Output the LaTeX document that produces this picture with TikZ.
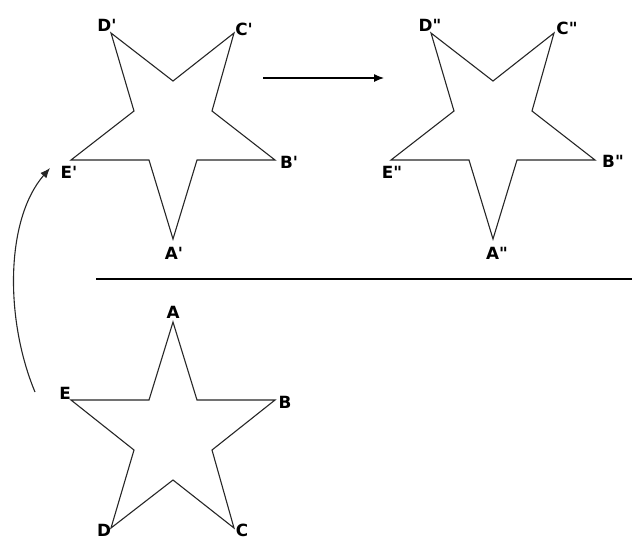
\documentclass[tikz,border=0pt]{standalone}
\usepackage{fontspec}
\newfontfamily\lblfont{DejaVu Sans}
\usetikzlibrary{arrows.meta}
\begin{document}
\begin{tikzpicture}[x=0.5pt, y=-0.5pt,
  lbl/.style={font=\lblfont\bfseries\fontsize{8.4}{10}\selectfont, inner sep=0pt},
  starline/.style={draw=black!85, line width=0.55pt, line join=miter},
  tip/.style={-{Latex[length=5pt,width=4pt]}, line width=0.55pt}]
\useasboundingbox (0,0) rectangle (632,538);
% original star (below the mirror line)
\coordinate (A) at (173,322);
\coordinate (ab) at (197,400);
\coordinate (B) at (275,400);
\coordinate (bc) at (212,450);
\coordinate (C) at (234,528);
\coordinate (cd) at (173,480);
\coordinate (D) at (111,528);
\coordinate (de) at (134,450);
\coordinate (E) at (71,400);
\coordinate (ea) at (149,400);
\draw[starline] (A) -- (ab) -- (B) -- (bc) -- (C) -- (cd) -- (D) -- (de) -- (E) -- (ea) -- cycle;
\node[lbl] (lA) at (173,312) {A};
\node[lbl] (lB) at (285,402) {B};
\node[lbl] (lC) at (242,530) {C};
\node[lbl] (lD) at (104,530) {D};
\node[lbl] (lE) at (65,393) {E};
% reflected star
\coordinate (A1) at (173,239);
\coordinate (ab1) at (197,160);
\coordinate (B1) at (275,160);
\coordinate (bc1) at (212,111);
\coordinate (C1) at (234,33);
\coordinate (cd1) at (173,81);
\coordinate (D1) at (111,33);
\coordinate (de1) at (134,111);
\coordinate (E1) at (71,160);
\coordinate (ea1) at (149,160);
\draw[starline] (A1) -- (ab1) -- (B1) -- (bc1) -- (C1) -- (cd1) -- (D1) -- (de1) -- (E1) -- (ea1) -- cycle;
\node[lbl] (lA1) at (174,253) {A'};
\node[lbl] (lB1) at (289,162) {B'};
\node[lbl] (lC1) at (244,29) {C'};
\node[lbl] (lD1) at (107,25) {D'};
\node[lbl] (lE1) at (69,172) {E'};
% translated star
\coordinate (A2) at (493,239);
\coordinate (ab2) at (517,160);
\coordinate (B2) at (595,160);
\coordinate (bc2) at (532,111);
\coordinate (C2) at (554,33);
\coordinate (cd2) at (493,81);
\coordinate (D2) at (431,33);
\coordinate (de2) at (454,111);
\coordinate (E2) at (391,160);
\coordinate (ea2) at (469,160);
\draw[starline] (A2) -- (ab2) -- (B2) -- (bc2) -- (C2) -- (cd2) -- (D2) -- (de2) -- (E2) -- (ea2) -- cycle;
\node[lbl] (lA2) at (497,253) {A"};
\node[lbl] (lB2) at (613,161) {B"};
\node[lbl] (lC2) at (567,28) {C"};
\node[lbl] (lD2) at (430,25) {D"};
\node[lbl] (lE2) at (392,172) {E"};
% mirror line
\coordinate (m1) at (96,279);
\coordinate (m2) at (632,279);
\draw[line width=0.55pt] (m1) -- (m2);
% translation arrow
\coordinate (t1) at (263,78);
\coordinate (t2) at (384,78);
\draw[tip] (t1) -- (t2);
% reflection arrow
\coordinate (r1) at (35,392);
\coordinate (r2) at (50,168);
\draw[tip, draw=black!85] (r1) .. controls (5,320) and (5,220) .. (r2);
\end{tikzpicture}
\end{document}
